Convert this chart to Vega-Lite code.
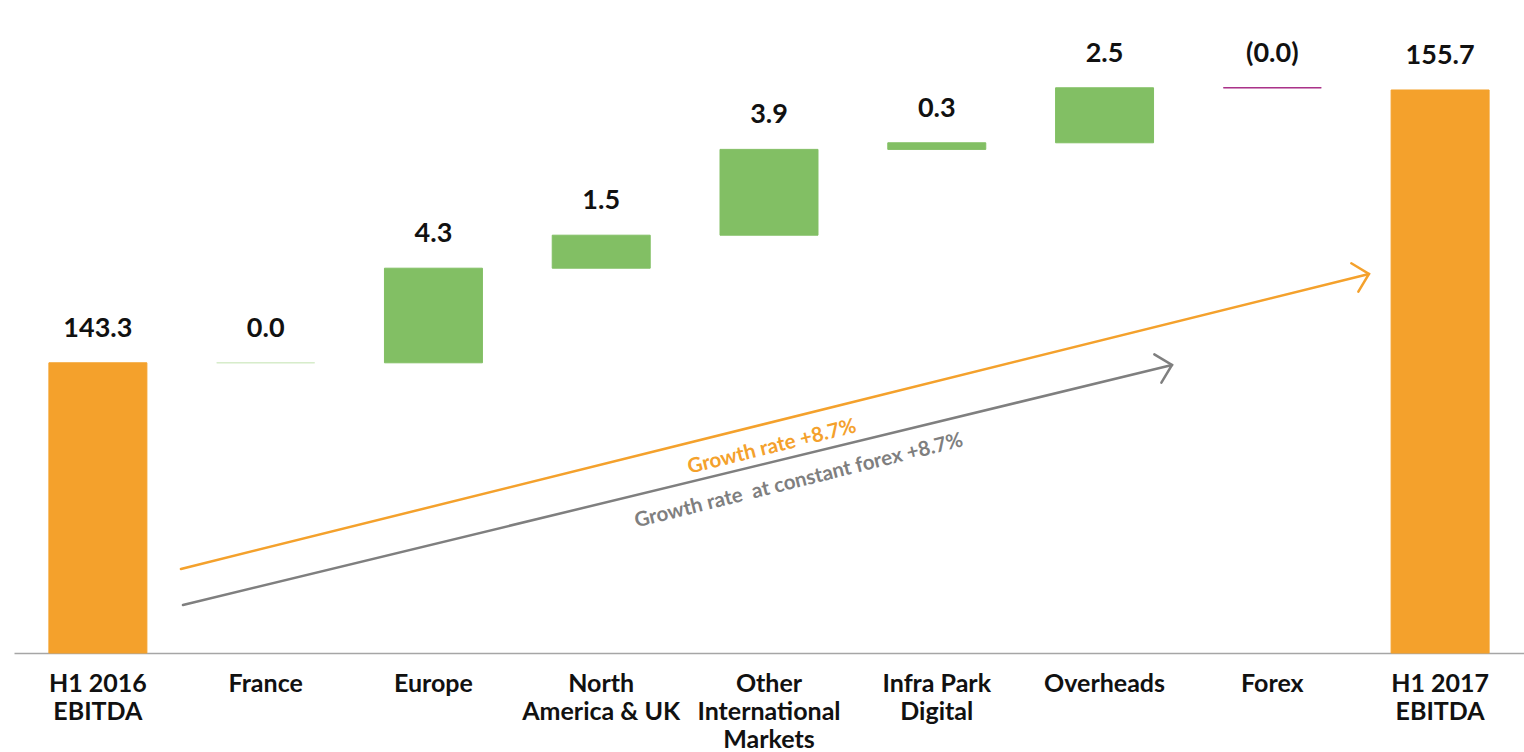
{
  "$schema": "https://vega.github.io/schema/vega-lite/v6.json",
  "width": 1510,
  "height": 653,
  "autosize": {"type": "none"},
  "padding": {"left": 14, "top": 0, "right": 0, "bottom": 99},
  "background": "white",
  "config": {"view": {"stroke": null}, "font": "Lato"},
  "datasets": {
    "bars": [
      {"cat": "H1 2016|EBITDA", "start": 0, "end": 143.3, "type": "total", "label": "143.3"},
      {"cat": "France", "start": 143.3, "end": 143.3, "type": "flat", "label": "0.0"},
      {"cat": "Europe", "start": 143.3, "end": 147.6, "type": "increase", "label": "4.3"},
      {"cat": "North|America & UK", "start": 147.6, "end": 149.1, "type": "increase", "label": "1.5"},
      {"cat": "Other|International|Markets", "start": 149.1, "end": 153.0, "type": "increase", "label": "3.9"},
      {"cat": "Infra Park|Digital", "start": 153.0, "end": 153.3, "type": "increase", "label": "0.3"},
      {"cat": "Overheads", "start": 153.3, "end": 155.8, "type": "increase", "label": "2.5"},
      {"cat": "Forex", "start": 155.8, "end": 155.8, "type": "decrease", "label": "(0.0)"},
      {"cat": "H1 2017|EBITDA", "start": 0, "end": 155.7, "type": "total", "label": "155.7"}
    ],
    "arrows": [
      {"series": "growth", "pos": "start", "idx": 0.495, "value": 133.93},
      {"series": "growth", "pos": "end", "idx": 7.576, "value": 147.34},
      {"series": "constant", "pos": "start", "idx": 0.507, "value": 132.29},
      {"series": "constant", "pos": "end", "idx": 6.402, "value": 143.2}
    ],
    "notes": [
      {"series": "growth", "text": "Growth rate +8.7%", "idx": 4.018, "value": 139.47},
      {"series": "constant", "text": "Growth rate\u00a0 at constant forex +8.7%", "idx": 4.178, "value": 137.93}
    ]
  },
  "resolve": {"scale": {"x": "independent"}, "axis": {"x": "independent"}},
  "layer": [
    {
      "data": {"name": "bars"},
      "mark": {"type": "bar", "strokeWidth": 1},
      "encoding": {
        "x": {
          "field": "cat", "type": "nominal", "sort": null,
          "scale": {"paddingInner": 0.416, "paddingOuter": 0.208},
          "axis": {
            "title": null, "labelAngle": 0, "ticks": false,
            "domainColor": "#a6a6a6", "domainWidth": 1.5,
            "labelExpr": "split(datum.label, '|')",
            "labelFont": "Lato", "labelFontSize": 25, "labelFontWeight": "bold",
            "labelColor": "#111111", "labelLineHeight": 28, "labelPadding": 18,
            "labelBaseline": "top", "labelLimit": 300
          }
        },
        "y": {
          "field": "start", "type": "quantitative",
          "scale": {"domain": [130.11, 159.79], "clamp": true, "nice": false, "zero": false},
          "axis": null
        },
        "y2": {"field": "end"},
        "color": {
          "field": "type", "type": "nominal",
          "scale": {
            "domain": ["total", "increase", "flat", "decrease", "growth", "constant"],
            "range": ["#F4A12C", "#82BF64", "#D3EAC6", "#A3207F", "#F4A12C", "#7F7F7F"]
          },
          "legend": null
        },
        "stroke": {
          "field": "type", "type": "nominal",
          "scale": {
            "domain": ["total", "increase", "flat", "decrease"],
            "range": ["#F4A12C", "#82BF64", "#D3EAC6", "#A3207F"]
          },
          "legend": null
        }
      }
    },
    {
      "data": {"name": "bars"},
      "mark": {"type": "text", "font": "Lato", "fontSize": 27, "fontWeight": "bold", "color": "#111111", "baseline": "middle", "dy": -34},
      "encoding": {
        "x": {"field": "cat", "type": "nominal", "sort": null,
          "scale": {"paddingInner": 0.416, "paddingOuter": 0.208}, "axis": null},
        "y": {"field": "end", "type": "quantitative",
          "scale": {"domain": [130.11, 159.79], "clamp": true, "nice": false, "zero": false}},
        "text": {"field": "label"}
      }
    },
    {
      "data": {"name": "arrows"},
      "mark": {"type": "line", "strokeWidth": 2.5, "strokeCap": "round"},
      "encoding": {
        "x": {"field": "idx", "type": "quantitative", "scale": {"domain": [-0.5, 8.5], "nice": false, "zero": false}, "axis": null},
        "y": {"field": "value", "type": "quantitative"},
        "color": {"field": "series", "type": "nominal", "legend": null},
        "detail": {"field": "series"}
      }
    },
    {
      "data": {"name": "arrows"},
      "transform": [{"filter": "datum.pos == 'end'"}],
      "mark": {"type": "point", "shape": "M -1 -1 L 0 0 L -1 1", "filled": false, "strokeWidth": 2.5, "size": 850, "angle": 346, "strokeCap": "round", "strokeJoin": "miter", "opacity": 1},
      "encoding": {
        "x": {"field": "idx", "type": "quantitative", "scale": {"domain": [-0.5, 8.5], "nice": false, "zero": false}, "axis": null},
        "y": {"field": "value", "type": "quantitative"},
        "color": {"field": "series", "type": "nominal", "legend": null}
      }
    },
    {
      "data": {"name": "notes"},
      "mark": {"type": "text", "font": "Lato", "fontSize": 20.5, "fontWeight": "bold", "angle": 346, "align": "center", "baseline": "middle"},
      "encoding": {
        "x": {"field": "idx", "type": "quantitative", "scale": {"domain": [-0.5, 8.5], "nice": false, "zero": false}, "axis": null},
        "y": {"field": "value", "type": "quantitative"},
        "text": {"field": "text"},
        "color": {"field": "series", "type": "nominal", "legend": null}
      }
    }
  ]
}
